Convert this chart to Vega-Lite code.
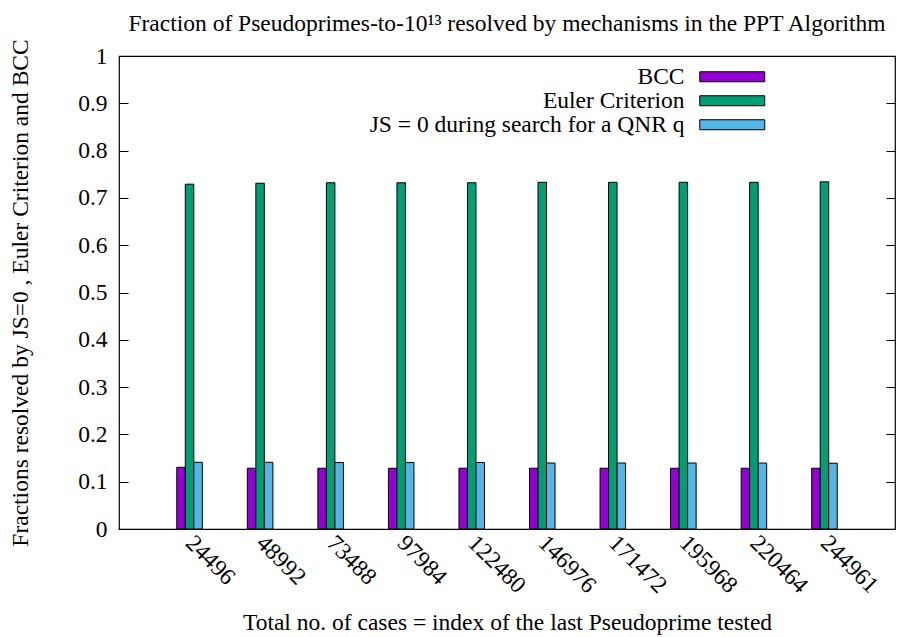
{
  "$schema": "https://vega.github.io/schema/vega-lite/v6.json",
  "autosize": {"type": "none"},
  "padding": {"left": 119, "top": 56, "right": 2, "bottom": 108},
  "width": 776,
  "height": 473,
  "background": "white",
  "title": {
    "text": "Fraction of Pseudoprimes-to-10¹³ resolved by mechanisms in the PPT Algorithm",
    "font": "Liberation Serif",
    "fontSize": 23.5,
    "fontWeight": "normal",
    "color": "black",
    "anchor": "middle",
    "offset": 3
  },
  "config": {
    "view": {"stroke": "black", "strokeWidth": 1.2},
    "font": "Liberation Serif",
    "axis": {
      "labelFont": "Liberation Serif",
      "titleFont": "Liberation Serif",
      "labelColor": "black",
      "titleColor": "black",
      "titleFontWeight": "normal",
      "labelFontSize": 23.5,
      "titleFontSize": 23.5,
      "grid": false,
      "domain": false,
      "tickColor": "black"
    }
  },
  "data": {
    "values": [
      {"cases": "24496", "series": "BCC", "fraction": 0.1305},
      {"cases": "24496", "series": "Euler Criterion", "fraction": 0.729},
      {"cases": "24496", "series": "JS = 0 during search for a QNR q", "fraction": 0.141},
      {"cases": "48992", "series": "BCC", "fraction": 0.1285},
      {"cases": "48992", "series": "Euler Criterion", "fraction": 0.731},
      {"cases": "48992", "series": "JS = 0 during search for a QNR q", "fraction": 0.141},
      {"cases": "73488", "series": "BCC", "fraction": 0.1285},
      {"cases": "73488", "series": "Euler Criterion", "fraction": 0.732},
      {"cases": "73488", "series": "JS = 0 during search for a QNR q", "fraction": 0.1405},
      {"cases": "97984", "series": "BCC", "fraction": 0.1285},
      {"cases": "97984", "series": "Euler Criterion", "fraction": 0.732},
      {"cases": "97984", "series": "JS = 0 during search for a QNR q", "fraction": 0.1405},
      {"cases": "122480", "series": "BCC", "fraction": 0.1285},
      {"cases": "122480", "series": "Euler Criterion", "fraction": 0.732},
      {"cases": "122480", "series": "JS = 0 during search for a QNR q", "fraction": 0.1405},
      {"cases": "146976", "series": "BCC", "fraction": 0.1285},
      {"cases": "146976", "series": "Euler Criterion", "fraction": 0.733},
      {"cases": "146976", "series": "JS = 0 during search for a QNR q", "fraction": 0.1395},
      {"cases": "171472", "series": "BCC", "fraction": 0.1285},
      {"cases": "171472", "series": "Euler Criterion", "fraction": 0.733},
      {"cases": "171472", "series": "JS = 0 during search for a QNR q", "fraction": 0.1395},
      {"cases": "195968", "series": "BCC", "fraction": 0.1285},
      {"cases": "195968", "series": "Euler Criterion", "fraction": 0.733},
      {"cases": "195968", "series": "JS = 0 during search for a QNR q", "fraction": 0.1395},
      {"cases": "220464", "series": "BCC", "fraction": 0.1285},
      {"cases": "220464", "series": "Euler Criterion", "fraction": 0.733},
      {"cases": "220464", "series": "JS = 0 during search for a QNR q", "fraction": 0.1395},
      {"cases": "244961", "series": "BCC", "fraction": 0.1285},
      {"cases": "244961", "series": "Euler Criterion", "fraction": 0.734},
      {"cases": "244961", "series": "JS = 0 during search for a QNR q", "fraction": 0.139}
    ]
  },
  "encoding": {
    "x": {
      "field": "cases",
      "type": "nominal",
      "sort": null,
      "scale": {"paddingInner": 0.638, "paddingOuter": 0.819},
      "axis": {
        "title": "Total no. of cases = index of the last Pseudoprime tested",
        "labelAngle": 45,
        "labelAlign": "left",
        "labelBaseline": "middle",
        "labelPadding": 10,
        "ticks": false,
        "titlePadding": 14
      }
    },
    "xOffset": {
      "field": "series",
      "type": "nominal",
      "sort": ["BCC", "Euler Criterion", "JS = 0 during search for a QNR q"],
      "scale": {"paddingInner": 0, "paddingOuter": 0}
    },
    "y": {
      "field": "fraction",
      "type": "quantitative",
      "scale": {"domain": [0, 1], "nice": false, "zero": true},
      "axis": {
        "title": "Fractions resolved by JS=0 , Euler Criterion and BCC",
        "values": [0, 0.1, 0.2, 0.3, 0.4, 0.5, 0.6, 0.7, 0.8, 0.9, 1],
        "format": ".1~f",
        "tickSize": -9,
        "labelPadding": 21,
        "titlePadding": 45
      }
    }
  },
  "layer": [
    {
      "mark": {"type": "bar", "stroke": "black", "strokeWidth": 1},
      "encoding": {
        "color": {
          "field": "series",
          "type": "nominal",
          "scale": {
            "domain": ["BCC", "Euler Criterion", "JS = 0 during search for a QNR q"],
            "range": ["#9400d3", "#009e73", "#56b4e9"]
          },
          "legend": {
            "title": null,
            "orient": "none",
            "legendX": 601.5,
            "legendY": 9,
            "symbolType": "M-6.5,-1H6.5V1H-6.5Z",
            "symbolSize": 100,
            "symbolStrokeColor": "black",
            "symbolStrokeWidth": 1,
            "symbolOpacity": 1,
            "labelAlign": "right",
            "labelOffset": -59.5,
            "labelFont": "Liberation Serif",
            "labelFontSize": 23.5,
            "labelColor": "black",
            "labelLimit": 0,
            "rowPadding": -2,
            "labelBaseline": "middle"
          }
        }
      }
    },
    {
      "mark": {"type": "bar", "opacity": 0},
      "encoding": {
        "y": {
          "field": "fraction",
          "type": "quantitative",
          "scale": {"domain": [0, 1], "nice": false, "zero": true},
          "axis": {
            "orient": "right",
            "title": null,
            "labels": false,
            "values": [0, 0.1, 0.2, 0.3, 0.4, 0.5, 0.6, 0.7, 0.8, 0.9, 1],
            "tickSize": -9
          }
        }
      }
    }
  ],
  "resolve": {"axis": {"y": "independent"}}
}
